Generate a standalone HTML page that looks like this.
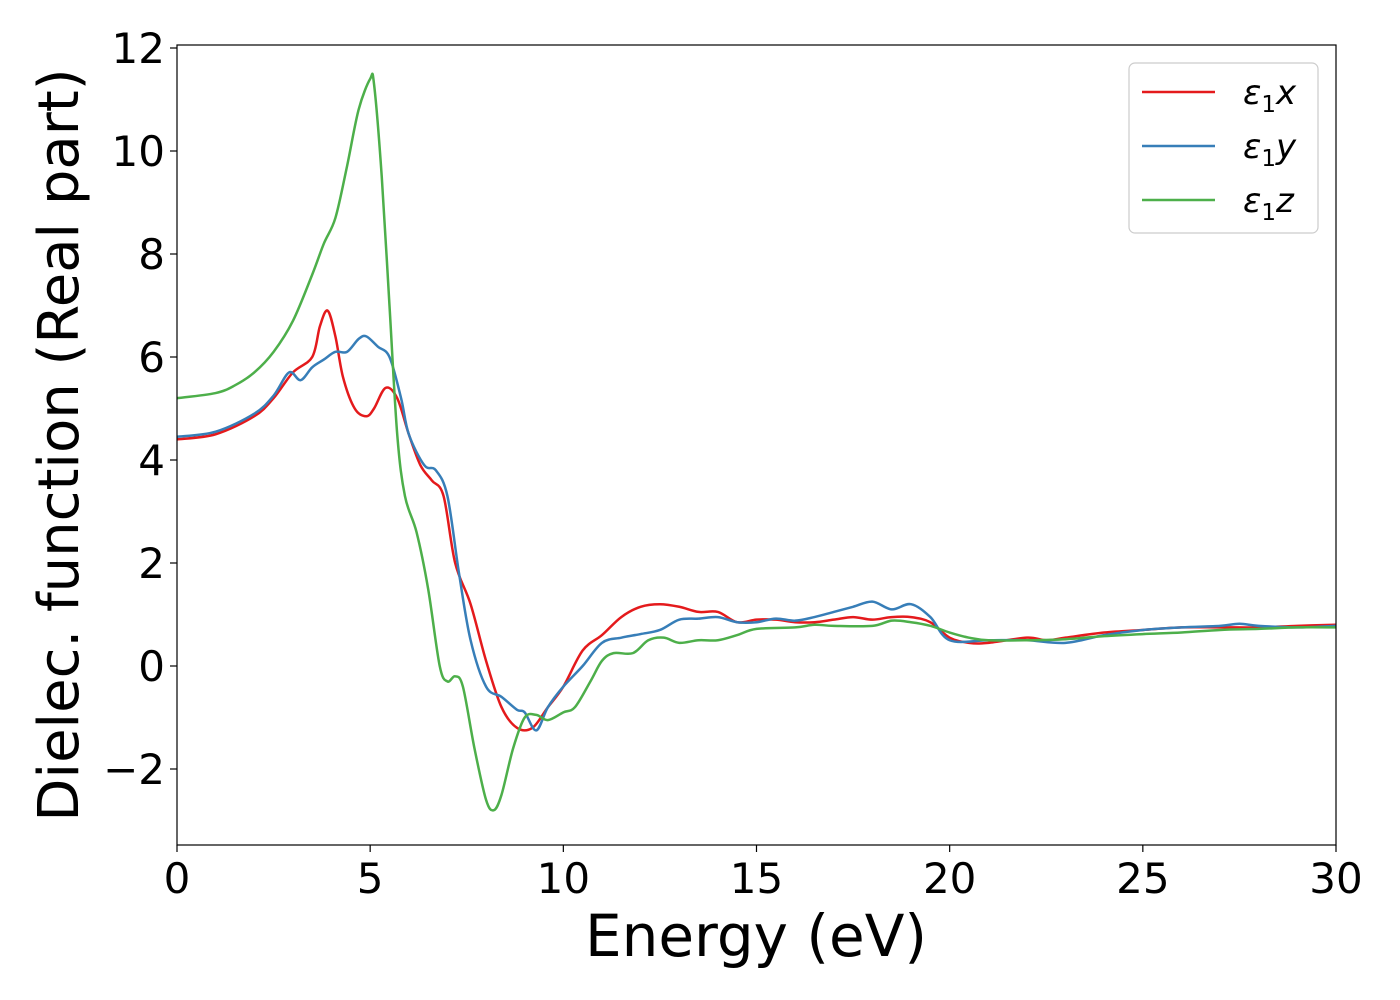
<!DOCTYPE html>
<html><head><meta charset="utf-8"><style>
html,body{margin:0;padding:0;background:#fff;}
svg{display:block;font-family:"DejaVu Sans","Liberation Sans",sans-serif;}
</style></head><body>
<svg id="chart" width="1400" height="1000" viewBox="0 0 1400 1000" xmlns="http://www.w3.org/2000/svg">
<g id="plot"></g>
<g id="xticks"></g>
<g id="yticks"></g>
<text x="756" y="956" font-size="58" text-anchor="middle">Energy (eV)</text>
<text transform="translate(78,445) rotate(-90)" font-size="56" text-anchor="middle">Dielec. function (Real part)</text>
<g>
<rect x="1129" y="63" width="189" height="170" rx="6" fill="#fff" stroke="#ccc" stroke-width="1.2"/>
<line x1="1142" y1="92" x2="1215" y2="92" stroke="#e41a1c" stroke-width="2.5"/>
<text x="1243" y="104" font-size="34" font-style="italic">ε<tspan font-size="23" dy="8" font-style="normal">1</tspan><tspan dy="-8">x</tspan></text>
<line x1="1142" y1="146" x2="1215" y2="146" stroke="#377eb8" stroke-width="2.5"/>
<text x="1243" y="158" font-size="34" font-style="italic">ε<tspan font-size="23" dy="8" font-style="normal">1</tspan><tspan dy="-8">y</tspan></text>
<line x1="1142" y1="200" x2="1215" y2="200" stroke="#4daf4a" stroke-width="2.5"/>
<text x="1243" y="212" font-size="34" font-style="italic">ε<tspan font-size="23" dy="8" font-style="normal">1</tspan><tspan dy="-8">z</tspan></text>
</g>
</svg>
<script>
const redData=[[0,4.4],[1,4.5],[2,4.85],[2.5,5.2],[3,5.7],[3.5,6.0],[3.7,6.6],[3.9,6.9],[4.1,6.4],[4.3,5.6],[4.6,5.0],[4.9,4.85],[5.1,5.0],[5.4,5.4],[5.7,5.2],[6,4.5],[6.3,3.9],[6.6,3.6],[6.9,3.3],[7.2,2.0],[7.6,1.2],[8,0.1],[8.4,-0.8],[8.8,-1.2],[9.2,-1.2],[9.6,-0.8],[10,-0.4],[10.5,0.3],[11,0.6],[11.5,0.95],[12,1.15],[12.5,1.2],[13,1.15],[13.5,1.05],[14,1.05],[14.5,0.85],[15,0.9],[15.5,0.9],[16,0.85],[16.5,0.85],[17,0.9],[17.5,0.95],[18,0.9],[18.5,0.95],[19,0.95],[19.5,0.85],[20,0.55],[20.5,0.45],[21,0.45],[22,0.55],[22.5,0.5],[23,0.55],[24,0.65],[25,0.7],[26,0.75],[27,0.75],[28,0.75],[29,0.78],[30,0.8]];
const blueData=[[0,4.45],[1,4.55],[2,4.9],[2.5,5.25],[2.9,5.7],[3.2,5.55],[3.5,5.8],[3.8,5.95],[4.1,6.1],[4.4,6.1],[4.7,6.35],[4.9,6.4],[5.2,6.2],[5.5,6.0],[5.8,5.2],[6,4.5],[6.4,3.9],[6.7,3.8],[7.0,3.3],[7.3,1.8],[7.6,0.5],[8,-0.4],[8.4,-0.6],[8.8,-0.85],[9.0,-0.9],[9.3,-1.25],[9.6,-0.8],[10,-0.4],[10.5,0.0],[11,0.45],[11.5,0.55],[12,0.62],[12.5,0.7],[13,0.9],[13.5,0.92],[14,0.95],[14.5,0.85],[15,0.85],[15.5,0.92],[16,0.88],[16.5,0.95],[17,1.05],[17.5,1.15],[18,1.25],[18.5,1.1],[19,1.2],[19.5,0.95],[20,0.5],[21,0.5],[22,0.5],[23,0.45],[24,0.6],[25,0.7],[26,0.75],[27,0.78],[27.5,0.82],[28,0.78],[29,0.75],[30,0.78]];
const greenData=[[0,5.2],[1,5.3],[1.5,5.45],[2,5.7],[2.5,6.1],[3,6.7],[3.5,7.6],[3.8,8.2],[4.1,8.7],[4.4,9.7],[4.7,10.8],[5.0,11.4],[5.1,11.3],[5.3,9.5],[5.5,7.0],[5.7,4.5],[5.9,3.3],[6.2,2.6],[6.5,1.5],[6.8,0.0],[7.0,-0.3],[7.2,-0.2],[7.4,-0.4],[7.7,-1.6],[8,-2.6],[8.2,-2.8],[8.4,-2.5],[8.7,-1.6],[9,-1.0],[9.3,-0.95],[9.6,-1.05],[10,-0.9],[10.3,-0.8],[10.7,-0.3],[11,0.1],[11.3,0.25],[11.8,0.25],[12.2,0.5],[12.6,0.55],[13,0.45],[13.5,0.5],[14,0.5],[14.5,0.6],[15,0.72],[16,0.75],[16.5,0.8],[17,0.78],[18,0.78],[18.5,0.88],[19,0.85],[19.5,0.78],[20,0.65],[20.5,0.55],[21,0.5],[22,0.5],[23,0.52],[24,0.58],[25,0.62],[26,0.65],[27,0.7],[28,0.72],[29,0.75],[30,0.75]];
const xTicks=[0,5,10,15,20,25,30];
const yTicks=[-2,0,2,4,6,8,10,12];
const yTickLabels=["\u22122","0","2","4","6","8","10","12"];

const L=177,R=1336,T=45,B=845,Y0=666,YS=51.5;
const sx=v=>L+(v-0)*(R-L)/30;
const sy=v=>Y0-v*YS;
const NS="http://www.w3.org/2000/svg";
function mk(t,a,p){const e=document.createElementNS(NS,t);for(const k in a)e.setAttribute(k,a[k]);p.appendChild(e);return e;}
const plot=document.getElementById('plot');
function pathFor(d){
  const p=d.map(q=>[sx(q[0]),sy(q[1])]);
  let s=`M${p[0][0]},${p[0][1]}`;
  for(let i=0;i<p.length-1;i++){
    const p0=p[Math.max(i-1,0)],p1=p[i],p2=p[i+1],p3=p[Math.min(i+2,p.length-1)];
    const c1=[p1[0]+(p2[0]-p0[0])/6,p1[1]+(p2[1]-p0[1])/6];
    const c2=[p2[0]-(p3[0]-p1[0])/6,p2[1]-(p3[1]-p1[1])/6];
    s+=` C${c1[0]},${c1[1]} ${c2[0]},${c2[1]} ${p2[0]},${p2[1]}`;
  }
  return s;
}
const series=[["series-x",redData,"#e41a1c"],["series-y",blueData,"#377eb8"],["series-z",greenData,"#4daf4a"]];
series.forEach(s=>{
  const e=mk('path',{d:pathFor(s[1]),fill:'none',stroke:s[2],'stroke-width':2.5},plot);
  
  
});
const fr=mk('rect',{x:L,y:T,width:R-L,height:B-T,fill:'none',stroke:'#000','stroke-width':1.2},plot);


const xg=document.getElementById('xticks');
xTicks.forEach(v=>{
  mk('line',{x1:sx(v),x2:sx(v),y1:B,y2:B+7,stroke:'#000','stroke-width':1.2},xg);
  const t=mk('text',{x:sx(v),y:B+48,'font-size':42,'text-anchor':'middle'},xg);
  t.textContent=v;
  
  
});
const yg=document.getElementById('yticks');
yTicks.forEach((v,i)=>{
  mk('line',{x1:L-7,x2:L,y1:sy(v),y2:sy(v),stroke:'#000','stroke-width':1.2},yg);
  const t=mk('text',{x:L-12,y:sy(v)+15,'font-size':42,'text-anchor':'end'},yg);
  t.textContent=yTickLabels[i];
  
  
});
</script>
</body></html>
